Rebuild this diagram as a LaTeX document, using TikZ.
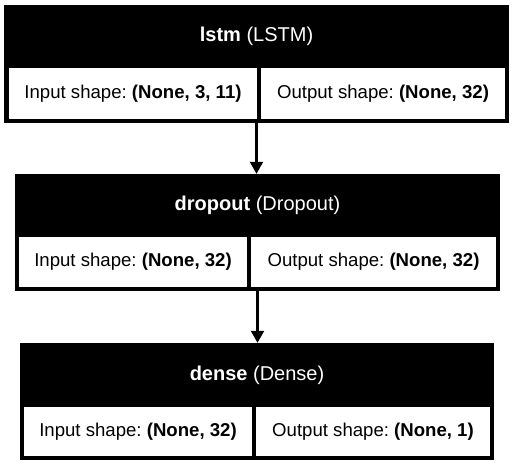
\documentclass[tikz,border=0pt]{standalone}
\usepackage{fontspec}
\setmainfont{Liberation Sans}
\usetikzlibrary{arrows.meta}
\frenchspacing

\begin{document}
\begin{tikzpicture}[x=1pt, y=-1pt,
    layer/.style = {fill=black, draw=none, inner sep=0pt},
    title/.style = {text=white, inner sep=0pt, font=\fontsize{20}{22}\selectfont},
    cell/.style = {fill=white, draw=none, inner sep=0pt, font=\fontsize{18.6}{20}\selectfont},
    flow/.style = {line width=2.2pt, -{Triangle[width=13pt, length=12pt]}}]
        \useasboundingbox (0, 0) rectangle (514, 467);

        % lstm
        \node [layer, minimum width=505pt, minimum height=118pt] (lstm) at (256.5, 64) {};
        \node [title] (lstm-name) at (256.5, 36.5) {\textbf{lstm} (LSTM)};
        \node [cell, minimum width=248pt, minimum height=51pt] (lstm-in) at (133, 93.5)
          {Input shape: \textbf{(None, 3, 11)}};
        \node [cell, minimum width=244pt, minimum height=51pt] (lstm-out) at (383, 93.5)
          {Output shape: \textbf{(None, 32)}};

        % dropout
        \node [layer, minimum width=485pt, minimum height=117pt] (dropout) at (257.5, 232.5) {};
        \node [title] (dropout-name) at (257.5, 205.5) {\textbf{dropout} (Dropout)};
        \node [cell, minimum width=228pt, minimum height=50pt] (dropout-in) at (133, 262)
          {Input shape: \textbf{(None, 32)}};
        \node [cell, minimum width=245pt, minimum height=50pt] (dropout-out) at (373.5, 262)
          {Output shape: \textbf{(None, 32)}};

        % dense
        \node [layer, minimum width=474pt, minimum height=117pt] (dense) at (257, 401.5) {};
        \node [title] (dense-name) at (257, 375) {\textbf{dense} (Dense)};
        \node [cell, minimum width=228pt, minimum height=49pt] (dense-in) at (138, 431.5)
          {Input shape: \textbf{(None, 32)}};
        \node [cell, minimum width=234pt, minimum height=49pt] (dense-out) at (373, 431.5)
          {Output shape: \textbf{(None, 1)}};

        \draw [flow] (lstm.south) -- (lstm.south |- dropout.north);
        \draw [flow] (dropout.south) -- (dropout.south |- dense.north);
\end{tikzpicture}
\end{document}
